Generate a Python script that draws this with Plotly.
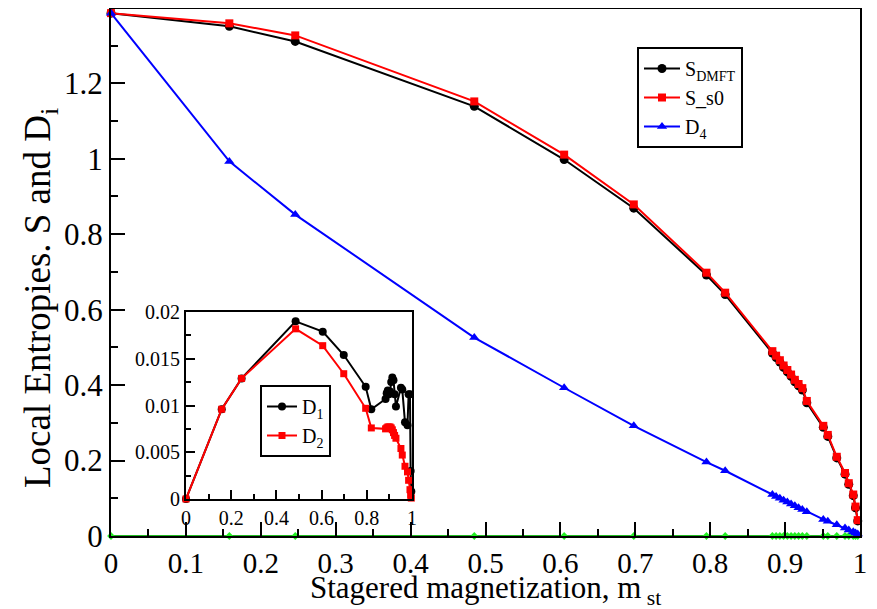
import plotly.graph_objects as go

# shared staggered magnetization values
m_st = [0, 0.158, 0.246, 0.485, 0.605, 0.698, 0.795, 0.820, 0.883, 0.888, 0.893,
        0.898, 0.903, 0.908, 0.913, 0.918, 0.923, 0.929, 0.951, 0.957, 0.969,
        0.980, 0.985, 0.991, 0.994, 0.997]

s_dmft = [1.386, 1.351, 1.311, 1.139, 0.998, 0.869, 0.692, 0.640, 0.485, 0.473, 0.461,
          0.447, 0.435, 0.423, 0.409, 0.398, 0.387, 0.353, 0.288, 0.264, 0.207,
          0.164, 0.137, 0.107, 0.075, 0.040]
s_s0 = [1.386, 1.359, 1.327, 1.152, 1.011, 0.879, 0.698, 0.645, 0.490, 0.478, 0.466,
        0.452, 0.440, 0.428, 0.414, 0.403, 0.392, 0.358, 0.292, 0.268, 0.210,
        0.167, 0.140, 0.110, 0.078, 0.042]
d4 = [1.386, 0.993, 0.852, 0.526, 0.393, 0.292, 0.196, 0.173, 0.110, 0.105, 0.100,
      0.095, 0.090, 0.085, 0.080, 0.075, 0.070, 0.064, 0.044, 0.039, 0.030,
      0.021, 0.016, 0.011, 0.008, 0.005]
d3 = [0.0] * len(m_st)

d1 = [0, 0.0096, 0.0129, 0.0190, 0.0179, 0.0154, 0.0120, 0.0096, 0.0107, 0.0113, 0.0116,
      0.0112, 0.0115, 0.0125, 0.0130, 0.0127, 0.0112, 0.0099, 0.0119, 0.0117, 0.0082,
      0.0079, 0.0112, 0.0112, 0.0030, 0.0008]
d2 = [0, 0.0096, 0.0129, 0.0182, 0.0164, 0.0134, 0.0097, 0.0076, 0.0075, 0.0076, 0.0077,
      0.0077, 0.0077, 0.0076, 0.0074, 0.0071, 0.0068, 0.0065, 0.0054, 0.0047, 0.0035,
      0.0029, 0.0020, 0.0010, 0.0004, 0.0001]

x_title = "Stagered magnetization, m<sub> st</sub>"
y_title = "Local Entropies. S and D<sub>i</sub>"

FONT = "Liberation Serif, Times New Roman, DejaVu Serif, serif"
W, H = 877, 609
OFF = 8  # page body margin

fig = go.Figure()

fig.add_trace(go.Scatter(x=m_st, y=d3, mode="lines+markers", showlegend=False,
                         line=dict(color="#22bb22", width=2),
                         marker=dict(symbol="diamond", size=6, color="#22ee22"),
                         cliponaxis=False, xaxis="x", yaxis="y"))
fig.add_trace(go.Scatter(x=m_st, y=s_dmft, mode="lines+markers", name="S<sub>DMFT</sub>",
                         line=dict(color="black", width=2),
                         marker=dict(symbol="circle", size=9, color="black"),
                         cliponaxis=False, xaxis="x", yaxis="y", legend="legend"))
fig.add_trace(go.Scatter(x=m_st, y=s_s0, mode="lines+markers", name="S_s0",
                         line=dict(color="#ff0000", width=2),
                         marker=dict(symbol="square", size=8, color="#ff0000"),
                         cliponaxis=False, xaxis="x", yaxis="y", legend="legend"))
fig.add_trace(go.Scatter(x=m_st, y=d4, mode="lines+markers", name="D<sub>4</sub>",
                         line=dict(color="#0000ff", width=2),
                         marker=dict(symbol="triangle-up", size=9, color="#0000ff"),
                         cliponaxis=False, xaxis="x", yaxis="y", legend="legend"))

fig.add_trace(go.Scatter(x=m_st, y=d1, mode="lines+markers", name="D<sub>1</sub>",
                         line=dict(color="black", width=2),
                         marker=dict(symbol="circle", size=8, color="black"),
                         cliponaxis=False, xaxis="x2", yaxis="y2", legend="legend2"))
fig.add_trace(go.Scatter(x=m_st, y=d2, mode="lines+markers", name="D<sub>2</sub>",
                         line=dict(color="#ff0000", width=2),
                         marker=dict(symbol="square", size=7, color="#ff0000"),
                         cliponaxis=False, xaxis="x2", yaxis="y2", legend="legend2"))

def px_x(p):
    return (p - OFF) / W

def px_y(p):
    return 1 - (p - OFF) / H

axis_common = dict(showline=True, linecolor="black", linewidth=2, mirror=True,
                   ticks="inside", tickcolor="black", tickwidth=2, showgrid=False,
                   zeroline=False, automargin=False)

fig.update_layout(
    width=W, height=H,
    margin=dict(l=0, r=0, t=0, b=0),
    paper_bgcolor="white", plot_bgcolor="white",
    font=dict(family=FONT, color="black"),
    xaxis=dict(domain=[px_x(111), px_x(860)], range=[0, 1], dtick=0.1, ticklen=14,
               tickfont=dict(size=29, family=FONT),
               minor=dict(dtick=0.05, ticks="inside", ticklen=7, tickwidth=2, tickcolor="black"),
               anchor="y", **axis_common),
    yaxis=dict(domain=[px_y(536), px_y(9)], range=[0, 1.397], dtick=0.2, ticklen=14,
               tickfont=dict(size=31, family=FONT),
               minor=dict(dtick=0.1, ticks="inside", ticklen=7, tickwidth=2, tickcolor="black"),
               anchor="x", **axis_common),
    xaxis2=dict(domain=[px_x(186), px_x(412)], range=[0, 1], dtick=0.2, ticklen=9,
                tickfont=dict(size=20, family=FONT),
                minor=dict(dtick=0.1, ticks="inside", ticklen=5, tickwidth=2, tickcolor="black"),
                anchor="y2", **axis_common),
    yaxis2=dict(domain=[px_y(499), px_y(312)], range=[0, 0.02], dtick=0.005, ticklen=9,
                tickfont=dict(size=20, family=FONT),
                minor=dict(dtick=0.0025, ticks="inside", ticklen=5, tickwidth=2, tickcolor="black"),
                anchor="x2", **axis_common),
    legend=dict(x=px_x(637), y=px_y(47), xanchor="left", yanchor="top",
                bgcolor="white", bordercolor="black", borderwidth=2,
                font=dict(size=20, family=FONT), tracegroupgap=0,
                itemwidth=36),
    legend2=dict(x=px_x(260), y=px_y(385), xanchor="left", yanchor="top",
                 bgcolor="white", bordercolor="black", borderwidth=2,
                 font=dict(size=20, family=FONT), tracegroupgap=0,
                 itemwidth=30),
    annotations=[
        dict(text=x_title, xref="paper", yref="paper", x=px_x(485), y=px_y(590),
             xanchor="center", yanchor="middle", showarrow=False,
             font=dict(size=31, family=FONT)),
        dict(text=y_title, xref="paper", yref="paper", x=px_x(40), y=px_y(298),
             xanchor="center", yanchor="middle", showarrow=False, textangle=-90,
             font=dict(size=37, family=FONT)),
    ],
)

fig.write_html("out.html")
